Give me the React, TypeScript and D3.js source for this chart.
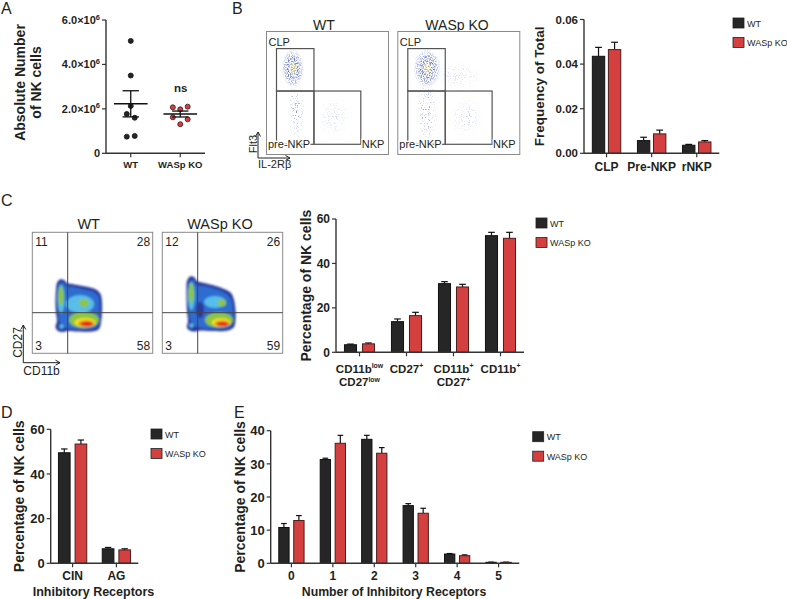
import React from 'react';
import * as d3 from 'd3';

const FONT = '"Liberation Sans", Arial, Helvetica, sans-serif';
const INK = '#231f20';
const WT_FILL = '#262626';
const KO_FILL = '#d4403f';
const AXIS_C = '#333333';

const seriesNames = ['WT', 'WASp KO'];

// ---------- Panel A (scatter with mean ± SEM)
const aGroups = ['WT', 'WASp KO'];
const aWT = [5.06e6, 3.5e6, 2.13e6, 1.77e6, 1.6e6, 0.75e6, 0.78e6];
const aKO = [2.07e6, 1.98e6, 2.1e6, 1.62e6, 1.53e6, 1.31e6];
const aWTJitter = [0, 0, 0, -0.08, 0.08, -0.08, 0.08];
const aKOJitter = [-0.15, 0, 0.15, -0.15, 0.15, 0];
const aTicks = [0, 2e6, 4e6, 6e6];

// ---------- Panel B bars
const bCategories = ['CLP', 'Pre-NKP', 'rNKP'];
const bWT = [0.0435, 0.0057, 0.0036];
const bWTsem = [0.004, 0.0015, 0.0004];
const bKO = [0.0465, 0.0087, 0.0051];
const bKOsem = [0.0033, 0.0017, 0.0006];
const bTicks = [0, 0.02, 0.04, 0.06];

// ---------- Panel C bars
const cCategories = ['CD11b^low|CD27^low', 'CD27^+', 'CD11b^+|CD27^+', 'CD11b^+'];
const cWT = [3.4, 13.8, 30.9, 52.5];
const cWTsem = [0.3, 1.2, 0.9, 1.5];
const cKO = [3.8, 16.5, 29.4, 51.3];
const cKOsem = [0.4, 1.5, 1.2, 2.7];
const cTicks = [0, 20, 40, 60];

// ---------- Panel D bars
const dCategories = ['CIN', 'AG'];
const dWT = [49.5, 6.5];
const dWTsem = [1.7, 0.6];
const dKO = [53.4, 6.0];
const dKOsem = [1.8, 0.5];
const dTicks = [0, 20, 40, 60];

// ---------- Panel E bars
const eCategories = ['0', '1', '2', '3', '4', '5'];
const eWT = [10.8, 31.3, 37.4, 17.4, 2.8, 0.3];
const eWTsem = [1.2, 0.4, 1.2, 0.6, 0.15, 0.05];
const eKO = [12.9, 36.2, 33.2, 15.1, 2.3, 0.3];
const eKOsem = [1.5, 2.4, 1.7, 1.5, 0.25, 0.05];
const eTicks = [0, 10, 20, 30, 40];

// ---------- Flow plots B (fractions of the axis range)
const flowSamples = ['WT', 'WASp KO'];
const bGates = [
  { name: 'CLP', x0: 0.082, x1: 0.389, y0: 0.516, y1: 0.861 },
  { name: 'pre-NKP', x0: 0.082, x1: 0.389, y0: 0.083, y1: 0.516 },
  { name: 'NKP', x0: 0.389, x1: 0.773, y0: 0.083, y1: 0.516 },
];
const bBlobsWT = [
  { fx: 0.245, fy: 0.36, rx: 0.07, ry: 0.27, kind: 'gTail' },
  { fx: 0.55, fy: 0.3, rx: 0.14, ry: 0.17, kind: 'gFaint' },
  { fx: 0.216, fy: 0.7, rx: 0.095, ry: 0.16, kind: 'gCore' },
];
const bBlobsKO = [
  { fx: 0.24, fy: 0.36, rx: 0.09, ry: 0.27, kind: 'gTail' },
  { fx: 0.5, fy: 0.64, rx: 0.2, ry: 0.11, kind: 'gFaint' },
  { fx: 0.56, fy: 0.3, rx: 0.14, ry: 0.17, kind: 'gFaint' },
  { fx: 0.24, fy: 0.7, rx: 0.115, ry: 0.16, kind: 'gCore' },
];

// ---------- Flow plots C (channel units, 0..120 on both axes)
const cGateX = 35.4;
const cGateY = 40.6;
const cQuadWT = [11, 28, 3, 58]; // UL, UR, LL, LR
const cQuadKO = [12, 26, 3, 59];
const densityColors = ['#2a3a9c', '#2f6cd0', '#58bde8', '#8dc641', '#f3e21c', '#f4881f', '#e3231c'];
const cOuterWT = [[24.7, 70.3], [27.7, 73.8], [31.7, 73.3], [34.7, 70.3], [39.7, 69.3], [47.7, 67.8], [55.7, 66.3], [63.7, 63.8], [68.2, 59.3], [69.7, 51.3], [69.7, 41.3], [68.7, 31.3], [66.7, 24.3], [59.7, 21.8], [45.7, 21.8], [35.7, 22.3], [30.7, 21.3], [25.7, 22.3], [23.2, 26.3], [24.7, 32.3], [23.7, 40.3], [23.2, 53.3], [23.7, 63.3]];
const cInnerWT = [[26.7, 68.3], [28.7, 70.8], [31.7, 70.3], [33.7, 67.3], [41.7, 66.3], [51.7, 63.8], [61.7, 61.3], [66.2, 56.8], [67.2, 49.3], [67.2, 39.3], [66.2, 31.3], [63.7, 25.8], [55.7, 24.3], [39.7, 24.3], [33.7, 25.3], [29.7, 27.3], [26.7, 33.3], [26.2, 43.3], [25.7, 57.3]];
const cOuterKO = [[24.7, 72.3], [27.7, 76.8], [31.7, 76.3], [34.7, 72.3], [41.7, 70.3], [51.7, 67.8], [61.7, 64.3], [68.7, 60.3], [71.7, 53.3], [73.2, 43.3], [73.2, 33.3], [71.7, 26.3], [65.7, 22.8], [49.7, 22.3], [37.7, 22.8], [33.7, 21.8], [28.7, 22.3], [24.7, 25.3], [25.7, 32.3], [24.7, 41.3], [24.2, 55.3], [24.2, 65.3]];
const cInnerKO = [[26.7, 69.3], [28.7, 73.3], [31.7, 72.8], [33.7, 68.3], [41.7, 67.3], [51.7, 64.8], [60.7, 61.3], [66.7, 57.3], [69.7, 51.3], [70.7, 41.3], [70.2, 32.3], [67.7, 26.3], [59.7, 24.8], [42.7, 24.8], [35.7, 26.3], [31.7, 28.3], [27.7, 33.3], [26.7, 45.3], [26.2, 60.3]];
// spots: [colorIndex, cx, cy, rx, ry]
const cSpotsWT: number[][] = [
  [2, 28.7, 54.3, 3.5, 14], [2, 47.7, 49.3, 14, 9], [2, 29.2, 26.8, 2.2, 2.2],
  [3, 28.7, 57.3, 2.6, 10], [3, 51.7, 50.3, 5, 4], [3, 51.7, 33.3, 15, 8],
  [4, 52.7, 30.8, 10.5, 4.5],
  [5, 53.7, 29.8, 8, 3.2],
  [6, 54.7, 29.3, 6, 2.2],
];
const cSpotsKO: number[][] = [
  [0, 37.7, 43.3, 4, 8],
  [2, 29, 57.3, 3.4, 14], [2, 52.7, 51.3, 11, 6], [2, 29.2, 27.8, 2.2, 2.2],
  [3, 29, 60.3, 2.6, 10], [3, 59.7, 50.3, 4, 3.5], [3, 56.7, 33.3, 14, 7.5],
  [4, 58.7, 30.8, 9.5, 4.3],
  [5, 59.7, 29.8, 7.5, 3],
  [6, 60.2, 29.3, 5.5, 2],
];

// ---------------------------------------------------------------
function parseLabel(s: string) {
  return s.split('|').map((line) => {
    const [base, sup] = line.split('^');
    return { base, sup };
  });
}

function Legend({ x, y }: { x: number; y: number }) {
  return (
    <g>
      {seriesNames.map((s, i) => (
        <g key={s}>
          <rect x={x} y={y + i * 19.5} width={11} height={10} fill={i === 0 ? WT_FILL : KO_FILL} stroke="#222" strokeWidth={0.8} />
          <text x={x + 14} y={y + i * 19.5 + 8.5} fontSize={9} fill={INK}>{s}</text>
        </g>
      ))}
    </g>
  );
}

type BarProps = {
  cats: string[]; wt: number[]; wtSem: number[]; ko: number[]; koSem: number[];
  domain: [number, number]; ticks: number[]; fmt: (v: number) => string;
  x0: number; x1: number; yBottom: number; yTop: number;
  tickFont: number; catFont: number; catDy: number;
  yTitle: string; yTitleX: number; yTitleFont: number;
  xTitle?: string; xTitleY?: number; xTitleFont?: number;
  legend: [number, number]; pair: number; gap: number;
};

function BarPanel(p: BarProps) {
  const x = d3.scaleBand<string>().domain(p.cats).range([p.x0, p.x1]).padding(0);
  const y = d3.scaleLinear().domain(p.domain).range([p.yBottom, p.yTop]);
  const pairW = x.bandwidth() * p.pair;
  const inner = d3.scaleBand<string>().domain(seriesNames).range([-pairW / 2, pairW / 2]).paddingInner(p.gap);
  const bw = inner.bandwidth();
  const series = [
    { name: 'WT', vals: p.wt, sem: p.wtSem, fill: WT_FILL, stroke: '#111' },
    { name: 'WASp KO', vals: p.ko, sem: p.koSem, fill: KO_FILL, stroke: '#4a1c1c' },
  ];
  const cap = bw * 0.55;
  const yc = (p.yBottom + p.yTop) / 2;
  return (
    <g>
      {series.map((s) =>
        s.vals.map((v, i) => {
          const bx = (x(p.cats[i]) as number) + x.bandwidth() / 2 + (inner(s.name) as number);
          const top = y(v);
          const et = y(v + s.sem[i]);
          const mx = bx + bw / 2;
          return (
            <g key={s.name + i}>
              <line x1={mx} x2={mx} y1={top} y2={et} stroke="#111" strokeWidth={1.2} />
              <line x1={mx - cap / 2} x2={mx + cap / 2} y1={et} y2={et} stroke="#111" strokeWidth={1.2} />
              <rect x={bx} y={top} width={bw} height={Math.max(0.6, y(0) - top)} fill={s.fill} stroke={s.stroke} strokeWidth={1} />
            </g>
          );
        })
      )}
      <line x1={p.x0} x2={p.x0} y1={y(p.domain[0])} y2={y(p.domain[1])} stroke={AXIS_C} strokeWidth={1.4} />
      <line x1={p.x0} x2={p.x1} y1={y(0)} y2={y(0)} stroke={AXIS_C} strokeWidth={1.4} />
      {p.ticks.map((t) => (
        <g key={t}>
          <line x1={p.x0 - 4} x2={p.x0} y1={y(t)} y2={y(t)} stroke={AXIS_C} strokeWidth={1.2} />
          <text x={p.x0 - 6} y={y(t) + p.tickFont * 0.36} textAnchor="end" fontSize={p.tickFont} fontWeight="bold" fill={INK}>{p.fmt(t)}</text>
        </g>
      ))}
      {p.cats.map((c) => {
        const cx = (x(c) as number) + x.bandwidth() / 2;
        const lines = parseLabel(c);
        return (
          <g key={c}>
            <line x1={cx} x2={cx} y1={y(0)} y2={y(0) + 4} stroke={AXIS_C} strokeWidth={1.2} />
            {lines.map((l, li) => (
              <text key={li} x={cx} y={y(0) + p.catDy + li * 13.5} textAnchor="middle" fontSize={p.catFont} fontWeight="bold" fill={INK}>
                <tspan>{l.base}</tspan>
                {l.sup ? <tspan fontSize={p.catFont * 0.6} dy={-p.catFont * 0.38}>{l.sup}</tspan> : null}
              </text>
            ))}
          </g>
        );
      })}
      <text transform={`translate(${p.yTitleX},${yc}) rotate(-90)`} textAnchor="middle" fontSize={p.yTitleFont} fontWeight="bold" fill={INK}>{p.yTitle}</text>
      {p.xTitle ? (
        <text x={(p.x0 + p.x1) / 2 - 1} y={p.xTitleY} textAnchor="middle" fontSize={p.xTitleFont} fontWeight="bold" fill={INK}>{p.xTitle}</text>
      ) : null}
      <Legend x={p.legend[0]} y={p.legend[1]} />
    </g>
  );
}

function PanelA() {
  const x = d3.scaleBand<string>().domain(aGroups).range([106, 205]);
  const y = d3.scaleLinear().domain([0, 6e6]).range([153.3, 20]);
  const bw = x.bandwidth();
  const groups = [
    { name: aGroups[0], vals: aWT, jit: aWTJitter, fill: WT_FILL, stroke: '#111' },
    { name: aGroups[1], vals: aKO, jit: aKOJitter, fill: KO_FILL, stroke: '#3a1515' },
  ];
  return (
    <g>
      {groups.map((g) => {
        const cx = (x(g.name) as number) + bw / 2;
        const m = d3.mean(g.vals) as number;
        const sem = (d3.deviation(g.vals) as number) / Math.sqrt(g.vals.length);
        return (
          <g key={g.name}>
            {g.vals.map((v, i) => (
              <circle key={i} cx={cx + g.jit[i] * bw} cy={y(v)} r={2.5} fill={g.fill} stroke={g.stroke} strokeWidth={0.8} />
            ))}
            <line x1={cx - bw * 0.34} x2={cx + bw * 0.34} y1={y(m)} y2={y(m)} stroke="#111" strokeWidth={1.4} />
            <line x1={cx} x2={cx} y1={y(m - sem)} y2={y(m + sem)} stroke="#111" strokeWidth={1.3} />
            <line x1={cx - bw * 0.165} x2={cx + bw * 0.165} y1={y(m + sem)} y2={y(m + sem)} stroke="#111" strokeWidth={1.3} />
            <line x1={cx - bw * 0.165} x2={cx + bw * 0.165} y1={y(m - sem)} y2={y(m - sem)} stroke="#111" strokeWidth={1.3} />
            <line x1={cx} x2={cx} y1={153.3} y2={157.3} stroke={AXIS_C} strokeWidth={1.2} />
            <text x={cx} y={168} textAnchor="middle" fontSize={9.5} fontWeight="bold" fill={INK}>{g.name}</text>
          </g>
        );
      })}
      <text x={(x(aGroups[1]) as number) + bw / 2 + 0.5} y={92} textAnchor="middle" fontSize={11.5} fontWeight="bold" fill={INK}>ns</text>
      <line x1={106} x2={106} y1={y(0)} y2={y(6e6)} stroke={AXIS_C} strokeWidth={1.4} />
      <line x1={106} x2={205} y1={y(0)} y2={y(0)} stroke={AXIS_C} strokeWidth={1.4} />
      {aTicks.map((t) => (
        <g key={t}>
          <line x1={102} x2={106} y1={y(t)} y2={y(t)} stroke={AXIS_C} strokeWidth={1.2} />
          <text x={100} y={y(t) + 4} textAnchor="end" fontSize={11} fontWeight="bold" fill={INK}>
            {t === 0 ? '0' : (
              <>
                <tspan>{(t / 1e6).toFixed(1)}×10</tspan>
                <tspan fontSize={7.5} dy={-4.5}>6</tspan>
              </>
            )}
          </text>
        </g>
      ))}
      <text transform={`translate(24.5,82.5) rotate(-90)`} textAnchor="middle" fontSize={14} fontWeight="bold" fill={INK}>Absolute Number</text>
      <text transform={`translate(41,82.5) rotate(-90)`} textAnchor="middle" fontSize={14} fontWeight="bold" fill={INK}>of NK cells</text>
    </g>
  );
}

function FlowB({ x0, title, titleX, blobs }: { x0: number; title: string; titleX: number; blobs: typeof bBlobsWT }) {
  const xs = d3.scaleLinear().domain([0, 1]).range([x0, x0 + 122]);
  const ys = d3.scaleLinear().domain([0, 1]).range([154.5, 31.5]);
  const halo = { paintOrder: 'stroke' as const, stroke: '#fff', strokeWidth: 2.5 };
  return (
    <g>
      <text x={titleX} y={30} textAnchor="middle" fontSize={14} fill={INK}>{title}</text>
      <rect x={xs(0)} y={ys(1)} width={xs(1) - xs(0)} height={ys(0) - ys(1)} fill="#fff" stroke="#8a8a8a" strokeWidth={1} />
      {blobs.map((b, i) => (
        <ellipse key={i} cx={xs(b.fx)} cy={ys(b.fy)} rx={xs(b.rx) - xs(0)} ry={ys(0) - ys(b.ry)}
          fill={`url(#${b.kind})`} filter={b.kind === 'gCore' ? 'url(#speckleDense)' : 'url(#speckle)'} />
      ))}
      {bGates.map((g) => (
        <rect key={g.name} x={xs(g.x0)} y={ys(g.y1)} width={xs(g.x1) - xs(g.x0)} height={ys(g.y0) - ys(g.y1)} fill="none" stroke="#555" strokeWidth={1.2} />
      ))}
      <text x={xs(0) + 2} y={ys(bGates[0].y1) - 2.5} fontSize={11} fill={INK}>{bGates[0].name}</text>
      <text x={xs(0) + 1.5} y={ys(bGates[1].y0) + 4} fontSize={11} fill={INK} {...halo}>{bGates[1].name}</text>
      <text x={xs(bGates[2].x1) + 1} y={ys(bGates[2].y0) + 4} fontSize={11} fill={INK} {...halo}>{bGates[2].name}</text>
    </g>
  );
}

function FlowC({ x0, title, titleX, outer, inner, spots, quad }: { x0: number; title: string; titleX: number; outer: number[][]; inner: number[][]; spots: number[][]; quad: number[] }) {
  const xs = d3.scaleLinear().domain([0, 120.4]).range([x0, x0 + 120.4]);
  const ys = d3.scaleLinear().domain([0, 121]).range([353.3, 232.3]);
  const shape = d3.line<number[]>().x((d) => xs(d[0])).y((d) => ys(d[1])).curve(d3.curveCatmullRomClosed.alpha(0.5));
  return (
    <g>
      <text x={titleX} y={228.5} textAnchor="middle" fontSize={14.5} fill={INK}>{title}</text>
      <rect x={xs(0)} y={ys(121)} width={120.4} height={121} fill="#fff" stroke="#8a8a8a" strokeWidth={1} />
      <g filter="url(#soft)">
        <path d={shape(outer) as string} fill={densityColors[0]} />
        <path d={shape(inner) as string} fill={densityColors[1]} />
        {spots.map((b, i) => (
          <ellipse key={i} cx={xs(b[1])} cy={ys(b[2])} rx={xs(b[3]) - xs(0)} ry={ys(0) - ys(b[4])} fill={densityColors[b[0]]} />
        ))}
      </g>
      <line x1={xs(cGateX)} x2={xs(cGateX)} y1={ys(0)} y2={ys(121)} stroke="#444" strokeWidth={1} />
      <line x1={xs(0)} x2={xs(120.4)} y1={ys(cGateY)} y2={ys(cGateY)} stroke="#444" strokeWidth={1} />
      <text x={xs(0) + 3} y={246} fontSize={12} fill={INK}>{quad[0]}</text>
      <text x={xs(120.4) - 2.5} y={246} fontSize={12} textAnchor="end" fill={INK}>{quad[1]}</text>
      <text x={xs(0) + 3} y={350} fontSize={12} fill={INK}>{quad[2]}</text>
      <text x={xs(120.4) - 2.5} y={350} fontSize={12} textAnchor="end" fill={INK}>{quad[3]}</text>
    </g>
  );
}

function AxisArrows({ ox, oy, up, right, yLabel, xLabel, yLabelX, yLabelY, xLabelY, font }: any) {
  return (
    <g stroke="#222" strokeWidth={1} fill="none">
      <path d={`M${ox},${oy} V${oy - up}`} />
      <path d={`M${ox},${oy} H${ox + right}`} />
      <path d={`M${ox - 2.5},${oy - up + 4.5} L${ox},${oy - up} L${ox + 2.5},${oy - up + 4.5}`} />
      <path d={`M${ox + right - 4.5},${oy - 2.5} L${ox + right},${oy} L${ox + right - 4.5},${oy + 2.5}`} />
      <text stroke="none" fill={INK} fontSize={font} transform={`translate(${yLabelX},${yLabelY}) rotate(-90)`} textAnchor="middle">{yLabel}</text>
      <text stroke="none" fill={INK} fontSize={font} x={ox} y={xLabelY}>{xLabel}</text>
    </g>
  );
}

function Defs() {
  return (
    <defs>
      <radialGradient id="gCore">
        <stop offset="0" stopColor="#e0702a" stopOpacity={0.95} />
        <stop offset="0.12" stopColor="#d8aa40" stopOpacity={0.85} />
        <stop offset="0.26" stopColor="#86a070" stopOpacity={0.8} />
        <stop offset="0.42" stopColor="#4254be" stopOpacity={0.85} />
        <stop offset="0.75" stopColor="#5f70cc" stopOpacity={0.45} />
        <stop offset="1" stopColor="#8090d8" stopOpacity={0} />
      </radialGradient>
      <radialGradient id="gTail">
        <stop offset="0" stopColor="#5b6dcc" stopOpacity={0.75} />
        <stop offset="0.6" stopColor="#7283d2" stopOpacity={0.4} />
        <stop offset="1" stopColor="#8a98da" stopOpacity={0} />
      </radialGradient>
      <radialGradient id="gFaint">
        <stop offset="0" stopColor="#8190d6" stopOpacity={0.45} />
        <stop offset="1" stopColor="#8c9ad8" stopOpacity={0} />
      </radialGradient>
      <filter id="speckle" x="-10%" y="-10%" width="120%" height="120%">
        <feTurbulence type="fractalNoise" baseFrequency="0.85" numOctaves={1} seed={4} result="noise" />
        <feColorMatrix in="noise" type="matrix" values="0 0 0 0 0  0 0 0 0 0  0 0 0 0 0  7 0 0 0 -3.9" result="mask" />
        <feComposite in="SourceGraphic" in2="mask" operator="in" />
      </filter>
      <filter id="speckleDense" x="-10%" y="-10%" width="120%" height="120%">
        <feTurbulence type="fractalNoise" baseFrequency="0.85" numOctaves={1} seed={7} result="noise" />
        <feColorMatrix in="noise" type="matrix" values="0 0 0 0 0  0 0 0 0 0  0 0 0 0 0  5 0 0 0 -2.2" result="mask" />
        <feComposite in="SourceGraphic" in2="mask" operator="in" />
      </filter>
      <filter id="soft" x="-10%" y="-10%" width="120%" height="120%">
        <feGaussianBlur stdDeviation={1.1} />
      </filter>
    </defs>
  );
}

const fmtInt = (v: number) => d3.format('d')(v);
const fmt2 = (v: number) => d3.format('.2f')(v);

export default function App() {
  return (
    <svg width={787} height={599} viewBox="0 0 787 599" fontFamily={FONT}
      style={{ position: 'absolute', left: 0, top: 0, display: 'block', background: '#fff' }}>
      <Defs />
      <rect x={0} y={0} width={787} height={599} fill="#fff" />
      <text x={1} y={14} fontSize={16} fill={INK}>A</text>
      <text x={232} y={14} fontSize={16} fill={INK}>B</text>
      <text x={1} y={206} fontSize={16} fill={INK}>C</text>
      <text x={1} y={418} fontSize={16} fill={INK}>D</text>
      <text x={234} y={418} fontSize={16} fill={INK}>E</text>

      <PanelA />

      <FlowB x0={266.5} title={flowSamples[0]} titleX={324} blobs={bBlobsWT} />
      <FlowB x0={397.8} title={flowSamples[1]} titleX={457} blobs={bBlobsKO} />
      <AxisArrows ox={258} oy={158} up={26} right={32} yLabel="Flt3" xLabel="IL-2Rβ" yLabelX={256.5} yLabelY={144} xLabelY={168} font={11} />

      <BarPanel cats={bCategories} wt={bWT} wtSem={bWTsem} ko={bKO} koSem={bKOsem}
        domain={[0, 0.06]} ticks={bTicks} fmt={fmt2} x0={584} x1={719.3} yBottom={153.3} yTop={19.5}
        tickFont={11.5} catFont={12} catDy={17.7} yTitle="Frequency of Total" yTitleX={543.5} yTitleFont={13.5}
        legend={[733, 18]} pair={0.63} gap={0.23} />

      <FlowC x0={32.3} title={flowSamples[0]} titleX={88.7} outer={cOuterWT} inner={cInnerWT} spots={cSpotsWT} quad={cQuadWT} />
      <FlowC x0={162.3} title={flowSamples[1]} titleX={220} outer={cOuterKO} inner={cInnerKO} spots={cSpotsKO} quad={cQuadKO} />
      <AxisArrows ox={23.3} oy={362.7} up={37.7} right={36.7} yLabel="CD27" xLabel="CD11b" yLabelX={21.5} yLabelY={342.5} xLabelY={375} font={12} />

      <BarPanel cats={cCategories} wt={cWT} wtSem={cWTsem} ko={cKO} koSem={cKOsem}
        domain={[0, 60]} ticks={cTicks} fmt={fmtInt} x0={336} x1={524} yBottom={352.3} yTop={219}
        tickFont={12} catFont={11.5} catDy={20.2} yTitle="Percentage of NK cells" yTitleX={311} yTitleFont={14}
        legend={[536, 218]} pair={0.64} gap={0.33} />

      <BarPanel cats={dCategories} wt={dWT} wtSem={dWTsem} ko={dKO} koSem={dKOsem}
        domain={[0, 60]} ticks={dTicks} fmt={fmtInt} x0={50.7} x1={138.3} yBottom={563.3} yTop={429.3}
        tickFont={13} catFont={12} catDy={17} yTitle="Percentage of NK cells" yTitleX={23.5} yTitleFont={14}
        xTitle="Inhibitory Receptors" xTitleY={596} xTitleFont={12.5}
        legend={[151, 429]} pair={0.646} gap={0.3} />

      <BarPanel cats={eCategories} wt={eWT} wtSem={eWTsem} ko={eKO} koSem={eKOsem}
        domain={[0, 40]} ticks={eTicks} fmt={fmtInt} x0={270.7} x1={519.3} yBottom={563.3} yTop={430.7}
        tickFont={13} catFont={12} catDy={17} yTitle="Percentage of NK cells" yTitleX={245} yTitleFont={14}
        xTitle="Number of Inhibitory Receptors" xTitleY={596} xTitleFont={12.3}
        legend={[532.7, 431.7]} pair={0.61} gap={0.31} />
    </svg>
  );
}
